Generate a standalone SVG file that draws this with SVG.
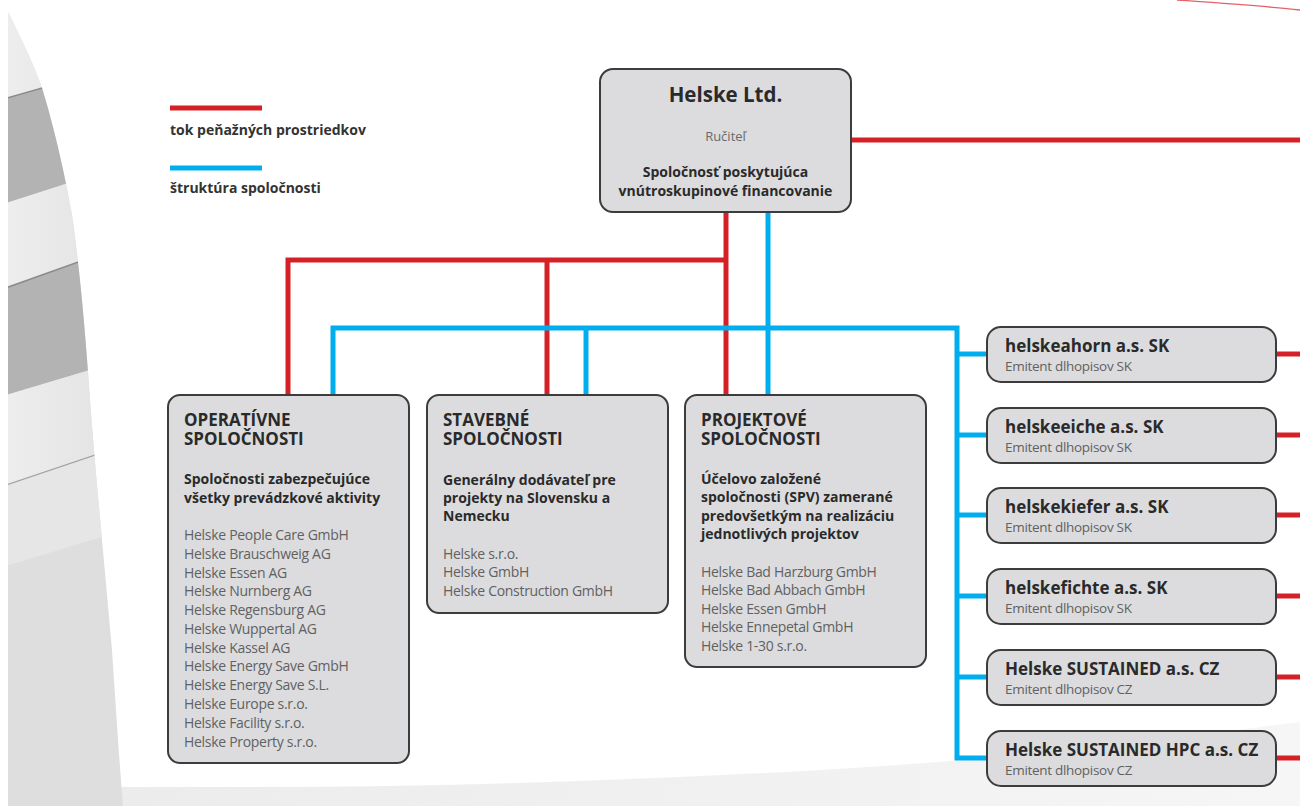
<svg xmlns="http://www.w3.org/2000/svg" width="1300" height="806" viewBox="0 0 1300 806">
  <defs>
    <clipPath id="leftShape">
      <path d="M8,12 C22,40 34,65 42,88 C55,130 66,180 72,215 C80,270 86,340 90,400 C96,480 106,580 112,650 C116,710 120,770 123,806 L8,806 Z"/>
    </clipPath>
    <linearGradient id="bottomFade" x1="0" y1="0" x2="1" y2="0">
      <stop offset="0" stop-color="#ebebeb"/>
      <stop offset="0.6" stop-color="#f1f1f1"/>
      <stop offset="1" stop-color="#f6f6f6"/>
    </linearGradient>
    <linearGradient id="lightBand" x1="0" y1="0" x2="1" y2="0">
      <stop offset="0" stop-color="#eeeeee"/>
      <stop offset="1" stop-color="#e0e0e0"/>
    </linearGradient>
  </defs>
  <style>
    .box { fill: #dcdcde; stroke: #3c3c3c; stroke-width: 2; }
    .red { fill: none; stroke: #d62028; stroke-width: 5; stroke-linejoin: miter; stroke-linecap: butt; }
    .blue { fill: none; stroke: #00aeef; stroke-width: 5; stroke-linejoin: miter; stroke-linecap: butt; }
    text { font-family: "Open Sans", "Noto Sans", "DejaVu Sans", sans-serif; }
    .h { font-weight: 700; font-size: 17px; fill: #2a2a2a; }
    .sub { font-weight: 700; font-size: 14px; fill: #2a2a2a; }
    .lst { font-size: 14px; fill: #616161; letter-spacing: -0.3px; }
    .rt { font-weight: 700; font-size: 17px; fill: #2a2a2a; }
    .rs { font-size: 13.5px; fill: #616161; letter-spacing: -0.3px; }
    .leg { font-weight: 700; font-size: 14px; fill: #333333; }
  </style>

  <g id="background">
    <rect x="0" y="0" width="1300" height="806" fill="#ffffff"/>
    <path d="M90,787 L300,787 C500,786 800,775 1000,757 C1120,745 1220,732 1300,722 L1300,806 L8,806 Z" fill="url(#bottomFade)"/>
    <g clip-path="url(#leftShape)">
      <rect x="0" y="0" width="140" height="806" fill="#dedede"/>
      <polygon points="0,0 140,0 140,60 0,100" fill="url(#lightBand)"/>
      <polygon points="0,100 140,60 140,160 0,205" fill="#b3b3b3"/>
      <polygon points="0,205 140,160 140,240 0,290" fill="url(#lightBand)"/>
      <polygon points="0,290 140,240 140,355 0,397" fill="#b3b3b3"/>
      <polygon points="0,397 140,355 140,440 0,487" fill="url(#lightBand)"/>
      <polygon points="0,487 140,440 140,525 0,568" fill="#e6e6e6"/>
      <line x1="0" y1="100" x2="140" y2="60" stroke="#8a8a8a" stroke-width="1.5"/>
      <line x1="0" y1="290" x2="140" y2="240" stroke="#8a8a8a" stroke-width="1.5"/>
      <line x1="0" y1="487" x2="140" y2="440" stroke="#a0a0a0" stroke-width="1.2"/>
    </g>
    <path d="M1177,0 C1220,3 1265,6 1300,10" fill="none" stroke="#d62028" stroke-width="1.3" opacity="0.7"/>
  </g>

  <g id="legend">
    <line x1="170" y1="108" x2="262" y2="108" class="red"/>
    <text x="170" y="135" class="leg">tok peňažných prostriedkov</text>
    <line x1="170" y1="168" x2="262" y2="168" class="blue"/>
    <text x="170" y="193" class="leg">štruktúra spoločnosti</text>
  </g>

  <g id="connectors">
    <path class="red" d="M851,140 H1300"/>
    <path class="red" d="M726,212 V395"/>
    <path class="red" d="M288,395 V260 H726"/>
    <path class="red" d="M547,260 V395"/>
    <path class="red" d="M1276,354 H1300"/>
    <path class="red" d="M1276,435 H1300"/>
    <path class="red" d="M1276,515 H1300"/>
    <path class="red" d="M1276,596 H1300"/>
    <path class="red" d="M1276,677 H1300"/>
    <path class="red" d="M1276,758 H1300"/>
    <path class="blue" d="M768,212 V395"/>
    <path class="blue" d="M333,395 V328 H957 V758 H987"/>
    <path class="blue" d="M586,328 V395"/>
    <path class="blue" d="M957,354 H987"/>
    <path class="blue" d="M957,435 H987"/>
    <path class="blue" d="M957,515 H987"/>
    <path class="blue" d="M957,596 H987"/>
    <path class="blue" d="M957,677 H987"/>
  </g>

  <g id="helske-ltd">
    <rect class="box" x="600" y="69" width="251" height="143" rx="13"/>
    <text x="725.5" y="102" text-anchor="middle" font-weight="700" font-size="20.5" fill="#2a2a2a">Helske Ltd.</text>
    <text x="725.5" y="141" text-anchor="middle" font-size="13" fill="#6a6a6a">Ručiteľ</text>
    <text x="725.5" y="177" text-anchor="middle" class="sub">Spoločnosť poskytujúca</text>
    <text x="725.5" y="196" text-anchor="middle" class="sub">vnútroskupinové financovanie</text>
  </g>

  <g id="operativne">
    <rect class="box" x="168" y="395" width="241" height="368" rx="12"/>
    <text class="h"><tspan x="184" y="426">OPERATÍVNE</tspan><tspan x="184" y="445">SPOLOČNOSTI</tspan></text>
    <text x="184" y="484" class="sub">Spoločnosti zabezpečujúce</text>
    <text x="184" y="503" class="sub">všetky prevádzkové aktivity</text>
    <text class="lst" x="184" y="540">Helske People Care GmbH</text>
    <text class="lst" x="184" y="559">Helske Brauschweig AG</text>
    <text class="lst" x="184" y="578">Helske Essen AG</text>
    <text class="lst" x="184" y="596">Helske Nurnberg AG</text>
    <text class="lst" x="184" y="615">Helske Regensburg AG</text>
    <text class="lst" x="184" y="634">Helske Wuppertal AG</text>
    <text class="lst" x="184" y="653">Helske Kassel AG</text>
    <text class="lst" x="184" y="671">Helske Energy Save GmbH</text>
    <text class="lst" x="184" y="690">Helske Energy Save S.L.</text>
    <text class="lst" x="184" y="709">Helske Europe s.r.o.</text>
    <text class="lst" x="184" y="728">Helske Facility s.r.o.</text>
    <text class="lst" x="184" y="747">Helske Property s.r.o.</text>
  </g>

  <g id="stavebne">
    <rect class="box" x="427" y="395" width="241" height="218" rx="12"/>
    <text class="h"><tspan x="443" y="426">STAVEBNÉ</tspan><tspan x="443" y="445">SPOLOČNOSTI</tspan></text>
    <text x="443" y="485" class="sub">Generálny dodávateľ pre</text>
    <text x="443" y="503" class="sub">projekty na Slovensku a</text>
    <text x="443" y="521" class="sub">Nemecku</text>
    <text class="lst" x="443" y="559">Helske s.r.o.</text>
    <text class="lst" x="443" y="577">Helske GmbH</text>
    <text class="lst" x="443" y="596">Helske Construction GmbH</text>
  </g>

  <g id="projektove">
    <rect class="box" x="685" y="395" width="241" height="272" rx="12"/>
    <text class="h"><tspan x="701" y="426">PROJEKTOVÉ</tspan><tspan x="701" y="445">SPOLOČNOSTI</tspan></text>
    <text x="701" y="484" class="sub">Účelovo založené</text>
    <text x="701" y="502" class="sub">spoločnosti (SPV) zamerané</text>
    <text x="701" y="521" class="sub">predovšetkým na realizáciu</text>
    <text x="701" y="539" class="sub">jednotlivých projektov</text>
    <text class="lst" x="701" y="577">Helske Bad Harzburg GmbH</text>
    <text class="lst" x="701" y="595">Helske Bad Abbach GmbH</text>
    <text class="lst" x="701" y="614">Helske Essen GmbH</text>
    <text class="lst" x="701" y="632">Helske Ennepetal GmbH</text>
    <text class="lst" x="701" y="651">Helske 1-30 s.r.o.</text>
  </g>

  <g id="helskeahorn">
    <rect class="box" x="987" y="327" width="289" height="55" rx="14"/>
    <text class="rt" x="1005" y="352">helskeahorn a.s. SK</text>
    <text class="rs" x="1005" y="371">Emitent dlhopisov SK</text>
  </g>
  <g id="helskeeiche">
    <rect class="box" x="987" y="408" width="289" height="55" rx="14"/>
    <text class="rt" x="1005" y="433">helskeeiche a.s. SK</text>
    <text class="rs" x="1005" y="452">Emitent dlhopisov SK</text>
  </g>
  <g id="helskekiefer">
    <rect class="box" x="987" y="488" width="289" height="55" rx="14"/>
    <text class="rt" x="1005" y="513">helskekiefer a.s. SK</text>
    <text class="rs" x="1005" y="532">Emitent dlhopisov SK</text>
  </g>
  <g id="helskefichte">
    <rect class="box" x="987" y="569" width="289" height="55" rx="14"/>
    <text class="rt" x="1005" y="594">helskefichte a.s. SK</text>
    <text class="rs" x="1005" y="613">Emitent dlhopisov SK</text>
  </g>
  <g id="sustained">
    <rect class="box" x="987" y="650" width="289" height="55" rx="14"/>
    <text class="rt" x="1005" y="675">Helske SUSTAINED a.s. CZ</text>
    <text class="rs" x="1005" y="694">Emitent dlhopisov CZ</text>
  </g>
  <g id="sustained-hpc">
    <rect class="box" x="987" y="731" width="289" height="55" rx="14"/>
    <text class="rt" x="1005" y="756">Helske SUSTAINED HPC a.s. CZ</text>
    <text class="rs" x="1005" y="775">Emitent dlhopisov CZ</text>
  </g>
</svg>
